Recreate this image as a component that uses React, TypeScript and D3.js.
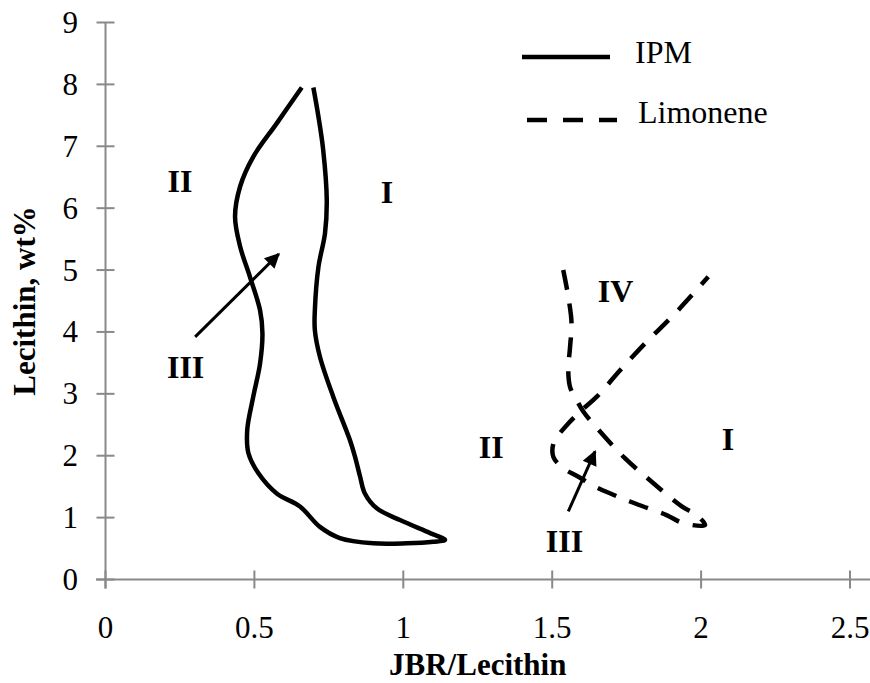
import React from "react";
import * as d3 from "d3";

const xTicks = [0, 0.5, 1, 1.5, 2, 2.5];
const yTicks = [0, 1, 2, 3, 4, 5, 6, 7, 8, 9];

// IPM boundary (solid)
const ipmX = [0.659, 0.575, 0.496, 0.452, 0.435, 0.452, 0.485, 0.519, 0.527, 0.519, 0.496, 0.476, 0.48, 0.513, 0.575, 0.653, 0.72, 0.787, 0.899, 1.011, 1.101, 1.14, 1.09, 0.989, 0.911, 0.871, 0.855, 0.838, 0.821, 0.765, 0.72, 0.703, 0.703, 0.715, 0.737, 0.743, 0.731, 0.715, 0.698];
const ipmY = [7.95, 7.37, 6.83, 6.35, 5.86, 5.38, 4.89, 4.35, 3.98, 3.49, 2.95, 2.42, 2.04, 1.72, 1.39, 1.18, 0.85, 0.67, 0.585, 0.585, 0.61, 0.64, 0.75, 0.96, 1.15, 1.39, 1.66, 1.98, 2.25, 2.95, 3.6, 4.03, 4.35, 5.05, 5.59, 6.13, 6.94, 7.48, 7.95];

// Limonene boundary (dashed)
const limX = [1.537, 1.554, 1.565, 1.56, 1.554, 1.56, 1.582, 1.605, 1.655, 1.744, 1.834, 1.935, 1.985, 2.013, 1.94, 1.884, 1.823, 1.761, 1.705, 1.644, 1.588, 1.537, 1.504, 1.504, 1.52, 1.554, 1.593, 1.649, 1.728, 1.817, 1.907, 2.024];
const limY = [5.0, 4.57, 4.14, 3.76, 3.38, 3.11, 2.9, 2.71, 2.42, 1.96, 1.58, 1.18, 1.04, 0.88, 0.91, 1.04, 1.15, 1.26, 1.37, 1.5, 1.66, 1.8, 1.98, 2.2, 2.33, 2.52, 2.71, 2.95, 3.38, 3.84, 4.27, 4.89];

const regionText = ["II", "I", "III", "IV", "II", "I", "III"];
const regionX = [0.25, 0.945, 0.269, 1.713, 1.295, 2.09, 1.541];
const regionY = [6.26, 6.08, 3.26, 4.48, 1.96, 2.09, 0.44];

const arrowX1 = [0.301, 1.554];
const arrowY1 = [3.92, 1.1];
const arrowX2 = [0.582, 1.644];
const arrowY2 = [5.26, 2.07];

const seriesNames = ["IPM", "Limonene"];

export default function App() {
  const W = 870;
  const H = 683;
  const x = d3.scaleLinear().domain([0, 2.5]).range([105.5, 850]);
  const y = d3.scaleLinear().domain([0, 9]).range([579.5, 22.5]);
  const line = d3
    .line<[number, number]>()
    .x((d) => x(d[0]))
    .y((d) => y(d[1]))
    .curve(d3.curveCatmullRom.alpha(0.5));
  const ipm: [number, number][] = ipmX.map((v, i) => [v, ipmY[i]]);
  const lim: [number, number][] = limX.map((v, i) => [v, limY[i]]);
  const font = "'Liberation Serif', 'Times New Roman', serif";
  const axisColor = "#898989";

  return (
    <svg
      width={W}
      height={H}
      style={{ position: "absolute", left: 0, top: 0, background: "#fff" }}
      fontFamily={font}
    >
      <defs>
        <marker
          id="ah"
          viewBox="0 0 10 10"
          refX="9"
          refY="5"
          markerWidth="6"
          markerHeight="5"
          markerUnits="strokeWidth"
          orient="auto"
        >
          <path d="M0,0 L10,5 L0,10 z" fill="#000" />
        </marker>
      </defs>
      {/* axes */}
      <line x1={96} x2={870} y1={y(0)} y2={y(0)} stroke={axisColor} strokeWidth={2} />
      <line x1={x(0)} x2={x(0)} y1={y(9)} y2={y(0) + 9} stroke={axisColor} strokeWidth={2} />
      {xTicks.map((t) => (
        <g key={"xt" + t}>
          <line x1={x(t)} x2={x(t)} y1={y(0) - 9} y2={y(0) + 9} stroke={axisColor} strokeWidth={2} />
          <text x={x(t)} y={638} textAnchor="middle" fontSize={31} fill="#000">
            {String(t)}
          </text>
        </g>
      ))}
      {yTicks.map((t) => (
        <g key={"yt" + t}>
          <line x1={x(0) - 9} x2={x(0) + 9} y1={y(t)} y2={y(t)} stroke={axisColor} strokeWidth={2} />
          <text x={78} y={y(t) + 10.5} textAnchor="end" fontSize={31} fill="#000">
            {String(t)}
          </text>
        </g>
      ))}
      <text x={(x(0) + x(2.5)) / 2} y={675} textAnchor="middle" fontSize={31} fontWeight="bold">
        JBR/Lecithin
      </text>
      <text
        transform={`translate(35, 301) rotate(-90)`}
        textAnchor="middle"
        fontSize={31}
        fontWeight="bold"
      >
        Lecithin, wt%
      </text>

      {/* curves */}
      <path d={line(ipm) || ""} fill="none" stroke="#000" strokeWidth={4.5} />
      <path d={line(lim) || ""} fill="none" stroke="#000" strokeWidth={4.5} strokeDasharray="20 14" />

      {/* arrows */}
      {arrowX1.map((v, i) => (
        <line
          key={"ar" + i}
          x1={x(v)}
          y1={y(arrowY1[i])}
          x2={x(arrowX2[i])}
          y2={y(arrowY2[i])}
          stroke="#000"
          strokeWidth={3}
          markerEnd="url(#ah)"
        />
      ))}

      {/* region labels */}
      {regionText.map((t, i) => (
        <text key={"r" + i} x={x(regionX[i])} y={y(regionY[i])} textAnchor="middle" fontSize={32} fontWeight="bold">
          {t}
        </text>
      ))}

      {/* legend */}
      <line x1={522} x2={610} y1={57} y2={57} stroke="#000" strokeWidth={4.5} />
      <text x={635} y={63} fontSize={32}>{seriesNames[0]}</text>
      <line x1={527} x2={617} y1={120} y2={120} stroke="#000" strokeWidth={4.5} strokeDasharray="20 16" />
      <text x={638} y={123} fontSize={32}>{seriesNames[1]}</text>
    </svg>
  );
}
